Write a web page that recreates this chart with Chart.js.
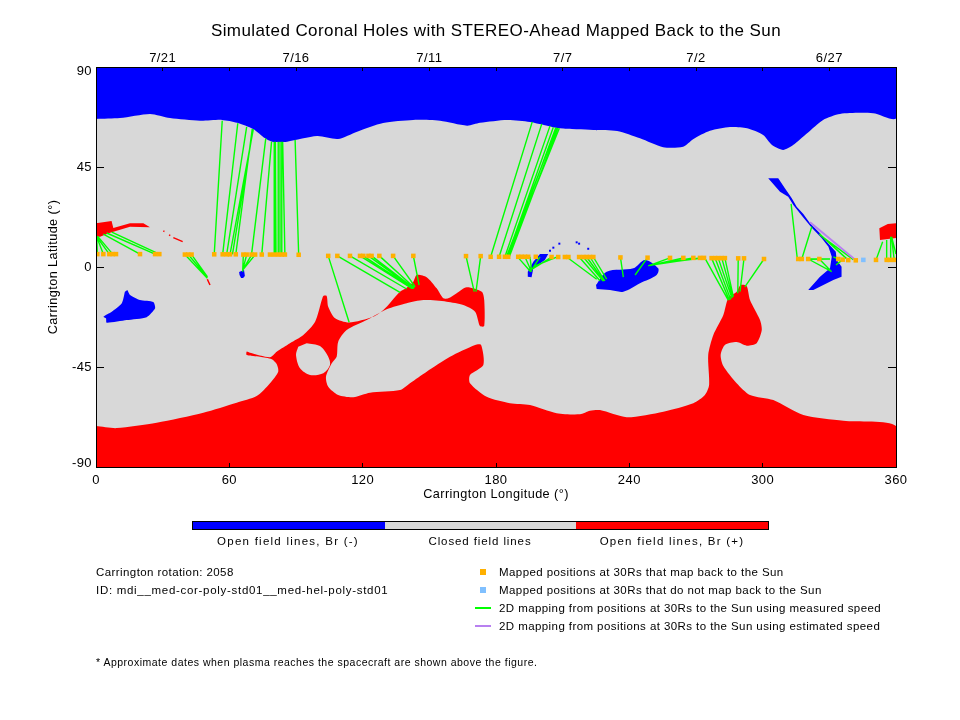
<!DOCTYPE html>
<html>
<head>
<meta charset="utf-8">
<title>Simulated Coronal Holes</title>
<script src="https://cdn.jsdelivr.net/npm/chart.js@4/dist/chart.umd.min.js"></script>
<style>
  html, body { margin: 0; padding: 0; background: #fff; }
  #wrap { position: relative; width: 960px; height: 720px; overflow: hidden; }
  canvas { position: absolute; left: 0; top: 0; }
  .t { position: absolute; font: 11.5px "Liberation Sans", sans-serif; letter-spacing: 0.42px; color: #000;
       white-space: pre; transform: translateY(-50%); line-height: 14px; }
  .c { transform: translate(-50%, -50%); }
  .bar { position: absolute; left: 192px; top: 521px; width: 575px; height: 7px; border: 1px solid #000; display: flex; }
  .bar div { flex: 1; }
  .sw { position: absolute; }
</style>
</head>
<body>
<div id="wrap">
  <canvas id="holes" width="960" height="720"></canvas>

  <div class="bar">
    <div style="background:#0000ff"></div>
    <div style="background:#d8d8d8"></div>
    <div style="background:#ff0000"></div>
  </div>
  <div class="t c" style="left:288px;top:541px;letter-spacing:1.25px">Open field lines, Br (-)</div>
  <div class="t c" style="left:480px;top:541px;letter-spacing:0.9px">Closed field lines</div>
  <div class="t c" style="left:672px;top:541px;letter-spacing:1.25px">Open field lines, Br (+)</div>

  <div class="t" style="left:96px;top:572px">Carrington rotation: 2058</div>
  <div class="t" style="left:96px;top:590px;letter-spacing:0.7px">ID: mdi__med-cor-poly-std01__med-hel-poly-std01</div>
  <div class="t" style="left:96px;top:662px;font-size:10.5px;letter-spacing:0.5px">* Approximate dates when plasma reaches the spacecraft are shown above the figure.</div>

  <div class="sw" style="left:480px;top:569px;width:6px;height:6px;background:#ffb000"></div>
  <div class="sw" style="left:480px;top:587px;width:6px;height:6px;background:#80c0ff"></div>
  <div class="sw" style="left:475px;top:607px;width:16px;height:2px;background:#00ff00"></div>
  <div class="sw" style="left:475px;top:625px;width:16px;height:2px;background:#b880f0"></div>
  <div class="t" style="left:499px;top:572px">Mapped positions at 30Rs that map back to the Sun</div>
  <div class="t" style="left:499px;top:590px">Mapped positions at 30Rs that do not map back to the Sun</div>
  <div class="t" style="left:499px;top:608px">2D mapping from positions at 30Rs to the Sun using measured speed</div>
  <div class="t" style="left:499px;top:626px">2D mapping from positions at 30Rs to the Sun using estimated speed</div>
</div>

<script>
// top axis dates
const dateLon = [30, 90, 150, 210, 270, 330];
const dateLabels = ['7/21', '7/16', '7/11', '7/7', '7/2', '6/27'];
// these two latitude labels sit inside the axis ends
const endLat = [90, -90];

// closed field background
const closedLon = [0, 360, 360, 0];
const closedLat = [90, 90, -90, -90];

// solid polar caps under the curved edges
const northCapLon = [0, 360, 360, 0];
const northCapLat = [90, 90, 70, 70];
const southCapLon = [0, 360, 360, 0];
const southCapLat = [-73, -73, -90, -90];

// north polar hole, Br (-)
const northLon = [0, 10.8, 24.3, 33.3, 46.8, 56.7, 63.5, 70.7, 76.1, 79.2, 86, 99.5, 108.9, 117.5, 129.2, 142.7, 154.8, 167, 172.8, 185, 195.3, 208.8, 223.7, 234.5, 244.8, 255.2, 264.2, 268.7, 276.3, 285.3, 293, 300.2, 304.2, 309.2, 313.7, 320, 327.2, 334.8, 349.7, 360, 360, 0];
const northLat = [66.6, 67, 68.9, 67, 65.8, 66.2, 64.9, 62.1, 57.9, 56.4, 56.4, 58.9, 57.6, 60.9, 64.8, 66.2, 65.8, 63.6, 64.9, 66.2, 65.3, 62.4, 61.7, 61.2, 57.9, 53.9, 54.1, 57.5, 61.3, 63, 62.4, 59.4, 54.9, 52.7, 54.9, 60.2, 66.2, 68.9, 69.2, 66.9, 90, 90];

// south polar hole with its arms, Br (+)
const southLon = [0, 9.3, 27.3, 48.3, 63.3, 72.3, 78.3, 82, 81.3, 79.1, 73.8, 67.8, 67.8, 69.3, 78.3, 81.3, 87.3, 93.3, 98.6, 101.6, 102.3, 103.8, 104.5, 107.6, 113.9, 124.8, 129.3, 136.8, 139.8, 142.8, 144.3, 148.8, 153.3, 156.3, 158.5, 162.3, 166.8, 173.6, 174.7, 174.7, 172.8, 170.6, 165.3, 157.8, 147.3, 139.8, 130.8, 121.8, 112.8, 109, 108.3, 106.1, 103.5, 104.5, 109, 115.8, 123.3, 136.8, 141.3, 148.8, 159.3, 170.6, 173.3, 174.3, 168.3, 168.3, 175.8, 186.3, 195.3, 207.3, 217.8, 222.3, 226.8, 238.8, 255.3, 268.8, 274, 275.9, 275.5, 277.8, 282.3, 284.5, 288.3, 290.1, 292.8, 294.3, 298.8, 299.6, 297.3, 292.8, 288.3, 283, 281.1, 282.3, 288.3, 294.3, 304.8, 318.3, 336.3, 360, 360, 0];
const southLat = [-71.6, -72.5, -70.1, -65.6, -61.1, -58.1, -52.3, -47.1, -43.7, -41.5, -40.4, -39.6, -38.1, -38.6, -40.6, -38.1, -34.3, -30.6, -24.6, -14.9, -13, -13, -17.9, -23.1, -25, -22.4, -19.4, -11.1, -9.3, -6.6, -3.6, -4.6, -9.6, -14.1, -14.1, -11.8, -9.1, -11.1, -14.9, -26.6, -26.6, -20.1, -17.1, -15.6, -14.9, -16.3, -19, -23.9, -28.4, -33.6, -40.4, -43.3, -49.4, -53.9, -57.6, -58.6, -56.6, -55.4, -52.3, -47.1, -40.4, -35.1, -35.1, -44.1, -48.6, -52.3, -58.4, -61.3, -62.1, -65.8, -66.3, -64.7, -64.4, -67.6, -65.1, -61.3, -57.6, -53.1, -39.6, -30.6, -21.6, -14.1, -11.1, -8.1, -8.6, -14.9, -23.9, -28.4, -34.3, -35.4, -33.8, -35.1, -39.6, -44.6, -52.3, -57.6, -59.9, -66.6, -69.2, -71.6, -90, -90];

// closed island inside the southern arms
const islandLon = [94.8, 100.8, 104.5, 105.3, 102.3, 96.3, 91.8, 90, 91];
const islandLat = [-34.3, -35.6, -40.4, -44.1, -47.8, -48.6, -45.6, -39.6, -35.9];

// low latitude holes, Br (-)
const blueALon = [14.1, 15.3, 19.8, 25.8, 26.6, 22.8, 13.8, 4.8, 4.5, 3.3, 7.1, 11.6, 13];
const blueALat = [-10.4, -12.6, -14.9, -15.8, -18.6, -22.6, -23.9, -25.1, -23.1, -22.4, -20.1, -16.3, -11.1];
const blueBLon = [64.4, 66.6, 67, 66.2, 65.3, 64.6];
const blueBLat = [-2.3, -1.4, -4, -5, -5, -3.6];
const blueCLon = [194.3, 196.8, 199.8, 203.5, 202, 196.8, 196, 194.3];
const blueCLat = [-2.1, 2.4, 5.9, 5.9, 3.2, -0.6, -4.6, -4.4];
const blueDLon = [225, 229.8, 241.8, 247, 253, 252.3, 244.8, 237.3, 231.3, 225.3];
const blueDLat = [-8.1, -2.1, -0.6, 3.2, -0.6, -3.6, -7.3, -11.1, -10.4, -9.9];
const blueELon = [302.5, 307, 310, 313.1, 315.3, 318.3, 321.3, 325.8, 328.8, 332.9, 333.3, 335.5, 335.5, 331.8, 322.8, 320.5, 325.8, 330.3, 331.1, 329.6, 326.6, 322.1, 318, 313.8, 311.5, 307.8];
const blueELat = [39.9, 39.9, 35.4, 30.9, 27.1, 23.9, 19.7, 15.2, 11.4, 6.9, 3.2, 0.1, -4.4, -5.9, -10.4, -10.4, -4.4, -0.6, 4.6, 9.1, 12.9, 17.7, 22.6, 27.9, 31.6, 33.9];
const blueSpeckLon = [204.3, 205.8, 208.5, 216.3, 217.4, 221.5];
const blueSpeckLat = [7.3, 8.7, 10.5, 11.1, 10.5, 8.2];

// low latitude holes, Br (+)
const redALon = [0, 7, 7.8, 15.3, 21.3, 24.3, 15.3, 6.3, 1.8, 0];
const redALat = [19.7, 20.7, 17.6, 19.7, 19.7, 17.9, 18.1, 15.4, 13.6, 13.6];
const redBLon = [352.5, 356.3, 360, 360, 352.8];
const redBLat = [17.4, 19.4, 19.7, 13, 12.2];
const redSliverLon = [30.3, 30.8, null, 32.9, 33.4, null, 34.8, 39, null, 50.1, 51.3];
const redSliverLat = [16.2, 16, null, 14.5, 14.1, null, 13.2, 11.4, null, -5.5, -8.1];

// positions at 30Rs that map back
const mappedLon = [0.6, 3.3, 6, 7.5, 9, 19.8, 26.6, 28.5, 40, 41.5, 43, 53.2, 57, 58.8, 60.3, 62.9, 66.3, 67.8, 70, 71.6, 74.6, 78.3, 80.1, 82, 83.6, 85, 91.2, 104.5, 108.6, 114.3, 118.8, 120.3, 122.6, 124, 127.5, 133.7, 142.8, 166.5, 173.1, 177.6, 181.4, 184, 185.5, 190, 191.5, 193, 194.5, 197.9, 205, 208, 211, 212.6, 217.4, 219.3, 220.8, 222.3, 223.8, 236, 248.2, 258.3, 264.3, 268.8, 271.8, 273.6, 277, 278.6, 280, 281.6, 283, 289, 291.6, 300.6, 316, 317.6, 320.5, 325.5, 334, 336, 338.5, 341.9, 351, 355.8, 357.3, 359.2];
const mappedLat = [5.8, 5.8, 5.8, 5.8, 5.8, 5.8, 5.8, 5.8, 5.6, 5.6, 5.6, 5.7, 5.7, 5.7, 5.7, 5.7, 5.6, 5.6, 5.6, 5.6, 5.6, 5.6, 5.6, 5.6, 5.6, 5.6, 5.5, 5, 5, 5, 5, 5, 5, 5, 5, 5, 5, 4.9, 4.9, 4.6, 4.6, 4.6, 4.6, 4.6, 4.6, 4.6, 4.6, 4.6, 4.5, 4.5, 4.5, 4.5, 4.5, 4.5, 4.5, 4.5, 4.5, 4.3, 4.2, 4.1, 4.1, 4.1, 4.1, 4.1, 4, 4, 4, 4, 4, 3.9, 3.9, 3.6, 3.6, 3.6, 3.6, 3.6, 3.6, 3.3, 3.1, 3, 3.2, 3.2, 3.2, 3.2];

// positions at 30Rs that do not map back
const unmappedLon = [345.3];
const unmappedLat = [3.2];

// 2D mapping, measured speed: from 30Rs to the Sun
const fromLon = [0.6, 3.3, 6, 7.5, 19.8, 26.6, 28.5, 40, 41.5, 43, 53.2, 57, 58.8, 60.3, 62.9, 61.4, 70, 74.6, 80.1, 81, 80.6, 82, 82.8, 83.6, 85, 91.2, 66.3, 67.8, 70, 71.6, 104.5, 108.6, 114.3, 118.8, 120.3, 122.6, 124, 127.5, 133.7, 142.8, 166.5, 173.1, 177.6, 181.4, 184, 185, 185.5, 184.7, 186, 185.2, 189.3, 193, 195.3, 199.8, 205, 207.3, 211.8, 217.4, 219.3, 220.8, 222.3, 223.8, 236, 248.2, 258.3, 264.3, 268.8, 271.8, 273.6, 274, 277, 278.6, 280, 281.6, 283, 289, 291.6, 300.6, 315.6, 317.6, 320.5, 325.5, 320.5, 319.5, 334, 336, 338.5, 340.8, 351, 355.8, 357.3, 359.2, 358];
const fromLat = [5.8, 5.8, 5.8, 5.8, 5.8, 5.8, 5.8, 5.6, 5.6, 5.6, 5.7, 5.7, 5.7, 5.7, 5.7, 5.7, 5.7, 5.7, 5.7, 5.7, 5.7, 5.7, 5.7, 5.7, 5.7, 5.6, 5.5, 5.5, 5.5, 5.5, 5, 5, 5, 5, 5, 5, 5, 5, 5, 5, 4.9, 4.9, 4.6, 4.6, 4.6, 4.6, 4.6, 4.6, 4.6, 4.6, 5, 4.6, 4.6, 4.6, 4.4, 4.4, 4.5, 4.5, 4.5, 4.5, 4.5, 4.5, 4.3, 4.2, 4.1, 4.1, 4.1, 4.1, 4.1, 4, 4, 4, 4, 4, 4, 3.9, 3.9, 3.6, 3.6, 3.6, 3.6, 3.6, 3.6, 3.5, 3.6, 3.3, 3.1, 3.3, 3.2, 3.2, 3.2, 3.2, 13.6];
const toLon = [0.3, 0.3, 0.3, 0.7, 3.3, 4.8, 7.1, 50.1, 50.1, 50.1, 56.8, 63.8, 67.8, 70.8, 70.3, 70.7, 76.4, 79, 80.2, 80.7, 80.4, 82, 82.8, 83.6, 84, 89.6, 66, 66, 66, 66, 113.9, 136.8, 139.8, 142.1, 142.4, 142.8, 143.1, 143.3, 143.6, 145.4, 170.2, 171, 196.3, 200.6, 204.3, 205.8, 206.9, 207.3, 207.8, 208.5, 195.6, 196, 196, 196, 196.8, 197.6, 225.3, 226.8, 228.2, 228.6, 229, 229.8, 237.3, 242.6, 248.5, 249.3, 250.2, 251.6, 252.5, 284.5, 285, 285.6, 286.2, 286.5, 286.8, 288.8, 289.8, 292, 312.8, 322.1, 331.1, 330.6, 330.3, 330.3, 331.8, 333, 325.5, 325.8, 354, 355.8, 357.6, 358, 360];
const toLat = [13.9, 13.6, 13.6, 13.9, 14.8, 15.3, 15.7, -5.1, -4.6, -4.4, 65.8, 64.7, 63.1, 62, 62.1, 62.1, 57.9, 56.4, 56.4, 56.4, 56.4, 56.4, 56.4, 56.4, 56.4, 57.2, -2.1, -1.4, -1.4, -1.4, -24.9, -11.4, -9.9, -9.6, -9.6, -9.6, -9.6, -9.3, -8.9, -8.1, -11.1, -11.1, 65.3, 64.4, 63.5, 62.9, 62.7, 62.7, 62.6, 62.4, -2.1, -2.1, -1.4, -1.4, -0.6, 0.5, -5.5, -6.2, -6.3, -6.3, -6.3, -5.5, -4.6, -3.6, 0.5, 0.7, 0.9, 1.1, 1.4, -14.9, -14.9, -14.6, -14.1, -13.6, -13.3, -11.8, -11.1, -8.9, 28.4, 18.1, -2.1, -1.7, 3.6, 3.6, 4.6, 0.9, 14.9, 14.4, 11.4, 12.2, 13.6, 13.6, 5.8];

// 2D mapping, estimated speed
const estFromLon = [341.9];
const estFromLat = [3];
const estToLon = [321.3];
const estToLat = [20.1];

const BLUE = '#0000ff', RED = '#ff0000', GREY = '#d8d8d8', GREEN = '#00ff00';
const FONT = '"Liberation Sans", sans-serif';

function pts(lons, lats) {
  return lons.map((x, i) => ({ x: x, y: lats[i] }));
}
function segs(x0, y0, x1, y1) {
  const out = [];
  x0.forEach((x, i) => {
    out.push({ x: x, y: y0[i] }, { x: x1[i], y: y1[i] }, { x: null, y: null });
  });
  return out;
}
function patch(label, lons, lats, color, order, tension) {
  return {
    label: label, data: pts(lons, lats), order: order,
    showLine: true, fill: 'shape', backgroundColor: color,
    borderColor: color, borderWidth: 0, pointRadius: 0, tension: tension
  };
}

// the axis lettering in the original is spaced wide
const spacing = {
  id: 'spacing',
  beforeDraw(chart) { chart.ctx.letterSpacing = '0.42px'; }
};

// 90 and -90 are pulled in from the axis ends
const endLabels = {
  id: 'endLabels',
  afterDraw(chart) {
    const ctx = chart.ctx, y = chart.scales.y;
    ctx.save();
    ctx.font = '13px ' + FONT;
    ctx.fillStyle = '#000';
    ctx.textAlign = 'right';
    ctx.textBaseline = 'middle';
    endLat.forEach(v => {
      ctx.fillText(String(v), y.right - 4, y.getPixelForValue(v) + (v > 0 ? 4 : -4));
    });
    ctx.restore();
  }
};

new Chart(document.getElementById('holes'), {
  type: 'scatter',
  plugins: [spacing, endLabels],
  data: {
    datasets: [
      patch('Closed field lines', closedLon, closedLat, GREY, 10, 0),
      patch('North cap', northCapLon, northCapLat, BLUE, 9, 0),
      patch('South cap', southCapLon, southCapLat, RED, 9, 0),
      patch('North hole', northLon, northLat, BLUE, 9, 0.25),
      patch('South hole', southLon, southLat, RED, 9, 0.25),
      patch('Island', islandLon, islandLat, GREY, 8, 0.3),
      patch('Hole A', blueALon, blueALat, BLUE, 8, 0.2),
      patch('Hole B', blueBLon, blueBLat, BLUE, 8, 0),
      patch('Hole C', blueCLon, blueCLat, BLUE, 8, 0),
      patch('Hole D', blueDLon, blueDLat, BLUE, 8, 0.3),
      patch('Hole E', blueELon, blueELat, BLUE, 8, 0),
      patch('Hole F', redALon, redALat, RED, 8, 0),
      patch('Hole G', redBLon, redBLat, RED, 8, 0),
      {
        label: 'Red slivers', data: pts(redSliverLon, redSliverLat), order: 7,
        showLine: true, borderColor: RED, borderWidth: 1.5, pointRadius: 0
      },
      {
        label: 'Blue specks', data: pts(blueSpeckLon, blueSpeckLat), order: 7,
        pointStyle: 'rect', pointRadius: 1.4, backgroundColor: BLUE, borderWidth: 0
      },
      {
        label: 'Mapped positions at 30Rs that map back to the Sun', data: pts(mappedLon, mappedLat), order: 2,
        pointStyle: 'rect', pointRadius: 3.2, backgroundColor: '#ffb000', borderWidth: 0
      },
      {
        label: 'Mapped positions at 30Rs that do not map back to the Sun', data: pts(unmappedLon, unmappedLat), order: 2,
        pointStyle: 'rect', pointRadius: 3.2, backgroundColor: '#80c0ff', borderWidth: 0
      },
      {
        label: '2D mapping from positions at 30Rs to the Sun using measured speed',
        data: segs(fromLon, fromLat, toLon, toLat), order: 4,
        showLine: true, borderColor: GREEN, borderWidth: 1.4, pointRadius: 0, tension: 0
      },
      {
        label: '2D mapping from positions at 30Rs to the Sun using estimated speed',
        data: segs(estFromLon, estFromLat, estToLon, estToLat), order: 3,
        showLine: true, borderColor: '#b880f0', borderWidth: 2, pointRadius: 0, tension: 0
      }
    ]
  },
  options: {
    responsive: false,
    animation: false,
    devicePixelRatio: 1,
    layout: { padding: { left: 46, right: 64, top: 0, bottom: 218 } },
    plugins: {
      legend: { display: false },
      tooltip: { enabled: false },
      title: {
        display: true,
        fullSize: false,
        text: 'Simulated Coronal Holes with STEREO-Ahead Mapped Back to the Sun',
        color: '#000',
        font: { family: FONT, size: 17, weight: 'normal', lineHeight: '20px' },
        padding: { top: 21, bottom: 0 }
      }
    },
    scales: {
      x: {
        position: 'bottom', min: 0, max: 360,
        afterFit(s) { s.height = 35; },
        border: { color: '#000', width: 1, z: 5 },
        grid: { drawOnChartArea: false, tickLength: -4, tickColor: '#000', z: 5 },
        ticks: { stepSize: 60, color: '#000', padding: 10, maxRotation: 0, autoSkip: false, font: { family: FONT, size: 13 } },
        title: { display: true, text: 'Carrington Longitude (°)', color: '#000', padding: 0, font: { family: FONT, size: 12.7 } }
      },
      x2: {
        axis: 'x', position: 'top', min: 0, max: 360,
        afterFit(s) { s.height = 26; },
        border: { color: '#000', width: 1, z: 5 },
        grid: { drawOnChartArea: false, tickLength: -4, tickColor: '#000', z: 5 },
        ticks: {
          stepSize: 30, color: '#000', padding: 5, maxRotation: 0, autoSkip: false,
          font: { family: FONT, size: 13 },
          callback(v) {
            const i = dateLon.indexOf(v);
            return i < 0 ? '' : dateLabels[i];
          }
        }
      },
      y: {
        position: 'left', min: -90, max: 90,
        afterFit(s) { s.width = 50; },
        border: { color: '#000', width: 1, z: 5 },
        grid: { drawOnChartArea: false, tickLength: -8, tickColor: '#000', z: 5 },
        ticks: {
          stepSize: 45, color: '#000', padding: 12, autoSkip: false, font: { family: FONT, size: 13 },
          callback(v) { return endLat.includes(v) ? '' : String(v); }
        },
        title: { display: true, text: 'Carrington Latitude (°)', color: '#000', padding: 0, font: { family: FONT, size: 12.7 } }
      },
      y2: {
        axis: 'y', position: 'right', min: -90, max: 90,
        afterFit(s) { s.width = 0; },
        border: { color: '#000', width: 1, z: 5 },
        grid: { drawOnChartArea: false, tickLength: -8, tickColor: '#000', z: 5 },
        ticks: { stepSize: 45, display: false }
      }
    }
  }
});
</script>
</body>
</html>
